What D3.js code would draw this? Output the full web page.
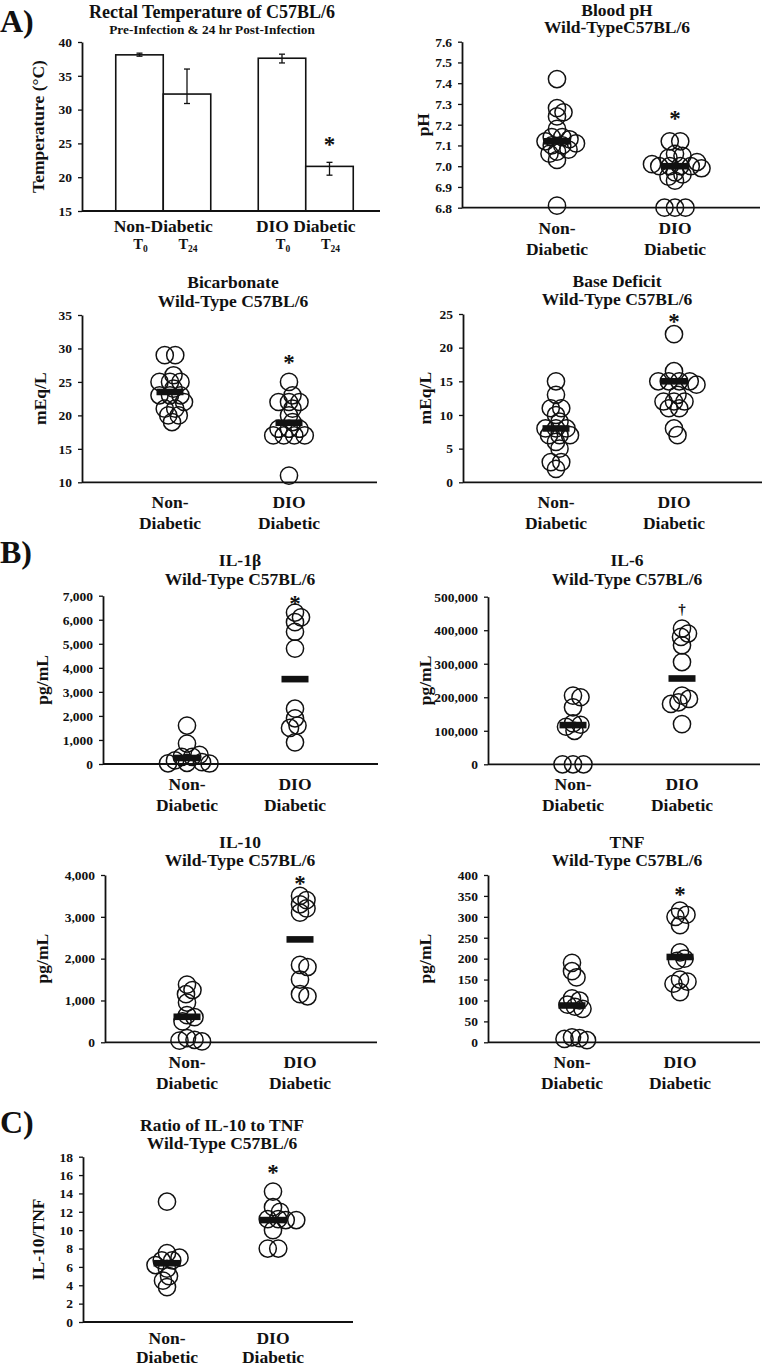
<!DOCTYPE html>
<html>
<head>
<meta charset="utf-8">
<script src="https://cdn.jsdelivr.net/npm/d3@7"></script>
<style>
  html, body { margin: 0; padding: 0; background: #fff; }
  svg { display: block; }
  text { font-family: "Liberation Serif", "Times New Roman", serif; font-weight: bold; fill: #111; }
</style>
</head>
<body>
<svg id="fig" width="764" height="1368"></svg>
<script>
// ---------------- DATA ----------------
const groups = ["Non-Diabetic", "DIO Diabetic"];
const groupLines = [["Non-", "Diabetic"], ["DIO", "Diabetic"]];

// A) Rectal temperature (bars: ND T0, ND T24, DIO T0, DIO T24)
const tempTimes = ["0", "24"];
const tempMean = [38.1, 32.3, 37.6, 21.6];
const tempHigh = [38.35, 36.0, 38.2, 22.2];
const tempLow = [37.9, 30.9, 36.9, 20.3];
const tempTicks = [15, 20, 25, 30, 35, 40];
const tempSig = 25.2;

// Blood pH
const phND = [7.42, 7.28, 7.26, 7.24, 7.18, 7.14, 7.14, 7.13, 7.12, 7.11, 7.10, 7.10, 7.08, 7.07, 7.06, 7.03, 6.81];
const phDIO = [7.12, 7.12, 7.06, 7.05, 7.04, 7.02, 7.01, 7.00, 7.00, 7.00, 7.00, 6.99, 6.97, 6.96, 6.95, 6.93, 6.80, 6.80, 6.80];
const phMean = [7.12, 7.00];
const phTicks = [6.8, 6.9, 7.0, 7.1, 7.2, 7.3, 7.4, 7.5, 7.6];
const phSig = 7.24;

// Bicarbonate
const bicND = [29, 29, 26, 25, 25, 25, 24, 23, 23, 23, 22, 21, 21, 20, 20, 19];
const bicDIO = [25, 23, 22, 22, 22, 21, 20, 19, 18, 18, 18, 17, 17, 17, 17, 11];
const bicMean = [23.5, 18.9];
const bicTicks = [10, 15, 20, 25, 30, 35];
const bicSig = 28.3;

// Base deficit
const bdND = [15, 13, 11, 11, 10, 9, 8, 8, 8, 7, 7, 7, 6, 5, 3, 3, 2];
const bdDIO = [22, 16.5, 15, 15, 15, 15, 14.5, 13, 12, 12, 12, 11, 11, 8, 7];
const bdMean = [8, 15];
const bdTicks = [0, 5, 10, 15, 20, 25];
const bdSig = 24.2;

// IL-1beta
const il1ND = [1600, 850, 380, 300, 300, 150, 80, 50, 30, 20];
const il1DIO = [6300, 6100, 5900, 5500, 4800, 2300, 1900, 1600, 1500, 900];
const il1Mean = [250, 3530];
const il1Ticks = [0, 1000, 2000, 3000, 4000, 5000, 6000, 7000];
const il1Sig = 6800;

// IL-6
const il6ND = [205000, 200000, 170000, 122000, 118000, 112000, 100000, 0, 0, 0];
const il6DIO = [405000, 390000, 380000, 355000, 305000, 205000, 195000, 185000, 180000, 120000];
const il6Mean = [117000, 256000];
const il6Ticks = [0, 100000, 200000, 300000, 400000, 500000];
const il6Sig = 465000;

// IL-10
const il10ND = [1380, 1250, 1150, 950, 650, 600, 500, 100, 60, 40, 20];
const il10DIO = [3500, 3400, 3300, 3200, 3100, 1850, 1800, 1500, 1150, 1100];
const il10Mean = [610, 2460];
const il10Ticks = [0, 1000, 2000, 3000, 4000];
const il10Sig = 3850;

// TNF
const tnfND = [190, 170, 155, 105, 100, 90, 85, 80, 12, 10, 8, 5];
const tnfDIO = [315, 305, 300, 280, 215, 200, 195, 150, 145, 140, 120];
const tnfMean = [88, 204];
const tnfTicks = [0, 50, 100, 150, 200, 250, 300, 350, 400];
const tnfSig = 359;

// Ratio IL-10 / TNF
const ratND = [13.1, 7.5, 7.0, 6.7, 6.7, 6.2, 5.8, 5.0, 4.5, 3.8];
const ratDIO = [14.2, 12.5, 12.0, 11.2, 11.2, 11.1, 11.1, 10.0, 8.0, 8.0];
const ratMean = [6.4, 11.1];
const ratTicks = [0, 2, 4, 6, 8, 10, 12, 14, 16, 18];
const ratSig = 16.5;

// ---------------- DRAWING ----------------
const svg = d3.select("#fig");
const AXW = 1.8;
const TITLE_FS = 17.5;
const R = 8.6;

function yAxis(g, y, ax, ticks, fmt) {
  const a = d3.axisLeft(y).tickValues(ticks).tickFormat(fmt).tickSize(4).tickSizeOuter(0).tickPadding(6);
  const gg = g.append("g").attr("transform", `translate(${ax},0)`).call(a);
  gg.select(".domain").attr("stroke", "#111").attr("stroke-width", AXW);
  gg.selectAll(".tick line").attr("stroke", "#111").attr("stroke-width", 1.3);
  gg.selectAll(".tick text").attr("font-size", 13.5).attr("font-family", "Liberation Serif").attr("font-weight", "bold").attr("fill", "#111");
}

function yLabel(g, x, yc, txt) {
  g.append("text").attr("transform", `translate(${x},${yc}) rotate(-90)`)
    .attr("text-anchor", "middle").attr("dominant-baseline", "central")
    .attr("font-size", 17.5).text(txt);
}

function titles(g, x, y1, y2, t1, t2, s1, s2) {
  g.append("text").attr("x", x).attr("y", y1).attr("text-anchor", "middle").attr("font-size", s1 || TITLE_FS).text(t1);
  g.append("text").attr("x", x).attr("y", y2).attr("text-anchor", "middle").attr("font-size", s2 || TITLE_FS).text(t2);
}

// scatter-dot layout: tied values form symmetric rows (largest ties placed first),
// remaining points are nudged sideways until they keep dmin pixels from placed centres
function swarm(vals, y, dmin, tieStep) {
  const sorted = vals.slice().sort((a, b) => b - a);
  const ties = [];
  sorted.forEach(v => {
    const last = ties[ties.length - 1];
    if (last && last.v === v) last.n++; else ties.push({ v, n: 1 });
  });
  const order = ties.slice().sort((a, b) => (b.n - a.n) || (b.v - a.v));
  const placed = [];
  order.forEach(t => {
    const py = y(t.v);
    const rel = d3.range(t.n).map(i => (i - (t.n - 1) / 2) * tieStep);
    let c = 0;
    for (let k = 0; k < 400; k++) {
      c = k === 0 ? 0 : (k % 2 ? 1 : -1) * Math.ceil(k / 2) * 0.5;
      const ok = rel.every(r => placed.every(p => Math.hypot(c + r - p.dx, py - p.py) >= dmin));
      if (ok) break;
    }
    rel.forEach(r => placed.push({ v: t.v, py, dx: c + r }));
  });
  return placed;
}

// Panel letters
[["A)", 32], ["B)", 563], ["C)", 1133]].forEach(([t, y]) => {
  svg.append("text").attr("x", 0).attr("y", y).attr("font-size", 32).text(t);
});

// ---- A1: Rectal temperature bar chart ----
(function () {
  const g = svg.append("g");
  const ax = 82, right = 380;
  const y = d3.scaleLinear().domain([15, 40]).range([211, 42]);
  const x0 = d3.scaleBand().domain(groups).range([92, 377]).paddingInner(1 / 3).paddingOuter(1 / 6);
  const x1 = d3.scaleBand().domain(tempTimes).range([0, x0.bandwidth()]);
  const bars = [];
  groups.forEach((gr, gi) => tempTimes.forEach((t, ti) => {
    const k = gi * 2 + ti;
    bars.push({ gr, t, m: tempMean[k], hi: tempHigh[k], lo: tempLow[k] });
  }));
  g.selectAll("rect.bar").data(bars).join("rect")
    .attr("x", d => x0(d.gr) + x1(d.t)).attr("width", x1.bandwidth())
    .attr("y", d => y(d.m)).attr("height", d => y(15) - y(d.m))
    .attr("fill", "#fff").attr("stroke", "#111").attr("stroke-width", 1.6);
  const cx = d => x0(d.gr) + x1(d.t) + x1.bandwidth() / 2;
  g.selectAll("line.err").data(bars).join("line")
    .attr("x1", cx).attr("x2", cx).attr("y1", d => y(d.hi)).attr("y2", d => y(d.lo))
    .attr("stroke", "#111").attr("stroke-width", 1.3);
  ["hi", "lo"].forEach(k => {
    g.selectAll("line.cap" + k).data(bars).join("line")
      .attr("x1", d => cx(d) - 3).attr("x2", d => cx(d) + 3)
      .attr("y1", d => y(d[k])).attr("y2", d => y(d[k]))
      .attr("stroke", "#111").attr("stroke-width", 1.3);
  });
  yAxis(g, y, ax, tempTicks, d3.format("d"));
  g.append("line").attr("x1", ax).attr("x2", right).attr("y1", y(15)).attr("y2", y(15)).attr("stroke", "#111").attr("stroke-width", AXW);
  yLabel(g, 38, (y(15) + y(40)) / 2, "Temperature (°C)");
  groups.forEach(gr => {
    g.append("text").attr("x", x0(gr) + x0.bandwidth() / 2).attr("y", 232).attr("text-anchor", "middle").attr("font-size", 17.5).text(gr);
  });
  bars.forEach(d => {
    const t = g.append("text").attr("x", cx(d) + 1).attr("y", 249).attr("text-anchor", "middle").attr("font-size", 14.5);
    t.append("tspan").text("T");
    t.append("tspan").attr("dy", 3).attr("font-size", 9.5).text(d.t);
  });
  const last = bars[3];
  g.append("text").attr("x", cx(last)).attr("y", y(tempSig)).attr("text-anchor", "middle")
    .attr("dy", 10).attr("font-size", 23).attr("font-weight", "normal").text("*");
  titles(g, 212, 18, 33.5, "Rectal Temperature of C57BL/6", "Pre-Infection & 24 hr Post-Infection", 18, 13.3);
})();

// ---- Dot plot panels ----
const dotPanels = [
  { nd: phND, dio: phDIO, mean: phMean, ticks: phTicks, sig: phSig, fmt: d3.format(".1f"),
    ax: 462, right: 760, yT: 41.7, yB: 207.7, cND: 557, cDIO: 675, ylab: "pH", ylx: 423,
    t1: "Blood pH", t2: "Wild-TypeC57BL/6", tx: 617, ty1: 15.5, ty2: 33 },
  { nd: bicND, dio: bicDIO, mean: bicMean, ticks: bicTicks, sig: bicSig, fmt: d3.format("d"),
    ax: 82, right: 377, yT: 315, yB: 482.3, cND: 170, cDIO: 289, ylab: "mEq/L", ylx: 40,
    t1: "Bicarbonate", t2: "Wild-Type C57BL/6", tx: 233, ty1: 288, ty2: 307 },
  { nd: bdND, dio: bdDIO, mean: bdMean, ticks: bdTicks, sig: bdSig, fmt: d3.format("d"),
    ax: 463, right: 762, yT: 314, yB: 482.3, cND: 556, cDIO: 674, ylab: "mEq/L", ylx: 425,
    t1: "Base Deficit", t2: "Wild-Type C57BL/6", tx: 617, ty1: 287, ty2: 305 },
  { nd: il1ND, dio: il1DIO, mean: il1Mean, ticks: il1Ticks, sig: il1Sig, fmt: d3.format(","),
    ax: 103, right: 378, yT: 595.7, yB: 764, cND: 187, cDIO: 295, ylab: "pg/mL", ylx: 42,
    t1: "IL-1β", t2: "Wild-Type C57BL/6", tx: 240, ty1: 566, ty2: 585 },
  { nd: il6ND, dio: il6DIO, mean: il6Mean, ticks: il6Ticks, sig: il6Sig, fmt: d3.format(","), dagger: true,
    ax: 488, right: 760, yT: 596.7, yB: 764.3, cND: 573, cDIO: 682, ylab: "pg/mL", ylx: 425,
    t1: "IL-6", t2: "Wild-Type C57BL/6", tx: 627, ty1: 566, ty2: 585 },
  { nd: il10ND, dio: il10DIO, mean: il10Mean, ticks: il10Ticks, sig: il10Sig, fmt: d3.format(","),
    ax: 105, right: 377, yT: 875, yB: 1042.3, cND: 187, cDIO: 300, ylab: "pg/mL", ylx: 42,
    t1: "IL-10", t2: "Wild-Type C57BL/6", tx: 240, ty1: 848, ty2: 866 },
  { nd: tnfND, dio: tnfDIO, mean: tnfMean, ticks: tnfTicks, sig: tnfSig, fmt: d3.format("d"),
    ax: 488, right: 760, yT: 875, yB: 1042.3, cND: 572, cDIO: 680, ylab: "pg/mL", ylx: 425,
    t1: "TNF", t2: "Wild-Type C57BL/6", tx: 627, ty1: 848, ty2: 866 },
  { nd: ratND, dio: ratDIO, mean: ratMean, ticks: ratTicks, sig: ratSig, fmt: d3.format("d"),
    ax: 83, right: 353, yT: 1156.7, yB: 1322, cND: 167, cDIO: 273, ylab: "IL-10/TNF", ylx: 38,
    t1: "Ratio of IL-10 to TNF", t2: "Wild-Type C57BL/6", tx: 222, ty1: 1131, ty2: 1149, lab1: 22, lab2: 41 }
];

dotPanels.forEach(p => {
  const g = svg.append("g");
  const y = d3.scaleLinear().domain(d3.extent(p.ticks)).range([p.yB, p.yT]);
  const x = d3.scaleOrdinal().domain(groups).range([p.cND, p.cDIO]);
  const series = [p.nd, p.dio];
  yAxis(g, y, p.ax, p.ticks, p.fmt);
  g.append("line").attr("x1", p.ax).attr("x2", p.right).attr("y1", p.yB).attr("y2", p.yB)
    .attr("stroke", "#111").attr("stroke-width", AXW);
  groups.forEach((gr, gi) => {
    const pts = swarm(series[gi], y, 7.5, 10.5);
    g.selectAll(null).data(pts).join("circle")
      .attr("cx", d => x(gr) + d.dx).attr("cy", d => d.py).attr("r", R)
      .attr("fill", "none").attr("stroke", "#111").attr("stroke-width", 1.5);
  });
  groups.forEach((gr, gi) => {
    g.append("rect").attr("x", x(gr) - 13.5).attr("width", 27)
      .attr("y", y(p.mean[gi]) - 3.3).attr("height", 6.6).attr("fill", "#111");
    const lines = groupLines[gi];
    g.append("text").attr("x", x(gr)).attr("y", p.yB + (p.lab1 || 26)).attr("text-anchor", "middle").attr("font-size", 17.5).text(lines[0]);
    g.append("text").attr("x", x(gr)).attr("y", p.yB + (p.lab2 || 47)).attr("text-anchor", "middle").attr("font-size", 17.5).text(lines[1]);
  });
  if (p.dagger) {
    g.append("text").attr("x", x(groups[1])).attr("y", y(p.sig)).attr("dy", 6).attr("text-anchor", "middle")
      .attr("font-size", 15).attr("font-weight", "normal").text("†");
  } else {
    g.append("text").attr("x", x(groups[1])).attr("y", y(p.sig)).attr("dy", 10).attr("text-anchor", "middle")
      .attr("font-size", 23).attr("font-weight", "normal").text("*");
  }
  yLabel(g, p.ylx, (p.yT + p.yB) / 2, p.ylab);
  titles(g, p.tx, p.ty1, p.ty2, p.t1, p.t2);
});
</script>
</body>
</html>
